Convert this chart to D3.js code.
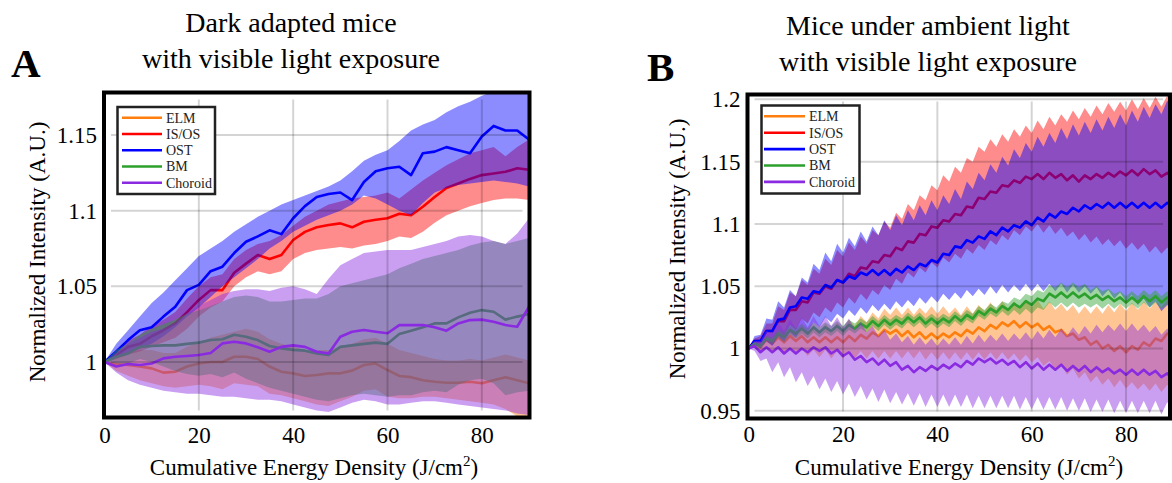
<!DOCTYPE html>
<html>
<head>
<meta charset="utf-8">
<script src="https://cdn.jsdelivr.net/npm/d3@7"></script>
<style>
  html, body { margin: 0; padding: 0; background: #fff; }
  svg { display: block; font-family: "Liberation Serif", "Times New Roman", serif; }
</style>
</head>
<body>
<svg id="chart" width="1172" height="483"></svg>
<script>
// ---- data ----
const layers = ['ELM', 'IS/OS', 'OST', 'BM', 'Choroid']
const colors = ['#ff7f0e', '#ff0000', '#0000ff', '#2ca02c', '#8a2be2']

const xTicks = [0, 20, 40, 60, 80]
const yTicksA = [1, 1.05, 1.1, 1.15]
const yTicksB = [0.95, 1, 1.05, 1.1, 1.15, 1.2]

// panel A (dark adapted), cumulative energy density
const xA = [0,2.5,5,7.5,10,12.5,15,17.5,20,22.5,25,27.5,30,32.5,35,37.5,40,42.5,45,47.5,50,52.5,55,57.5,60,62.5,65,67.5,70,72.5,75,77.5,80,82.5,85,87.5,90]

const aElm = [1.000,0.9987,0.998,0.997,0.9958,0.993,0.9936,0.997,0.999,1.000,1.000,1.0035,1.0035,1.002,0.997,0.9936,0.9925,0.9908,0.9914,0.9925,0.9925,0.9943,0.998,0.999,0.9947,0.9908,0.990,0.988,0.987,0.9863,0.9863,0.987,0.986,0.988,0.990,0.988,0.986]
const aElmHi = [1.000,1.004,1.006,1.008,1.008,1.006,1.006,1.010,1.013,1.016,1.018,1.020,1.022,1.020,1.015,1.012,1.010,1.008,1.008,1.008,1.010,1.012,1.015,1.016,1.012,1.008,1.006,1.004,1.002,1.001,1.001,1.002,1.001,1.003,1.005,1.003,1.001]
const aElmLo = [1.000,0.994,0.991,0.988,0.986,0.984,0.983,0.984,0.985,0.984,0.982,0.986,0.985,0.984,0.979,0.978,0.976,0.974,0.972,0.971,0.974,0.977,0.981,0.982,0.977,0.976,0.976,0.977,0.977,0.976,0.975,0.974,0.973,0.972,0.969,0.964,0.961]

const aIsos = [1.000,1.0046,1.010,1.012,1.017,1.021,1.0255,1.033,1.041,1.0475,1.0475,1.059,1.065,1.0707,1.068,1.0707,1.0806,1.086,1.089,1.0905,1.0916,1.089,1.0927,1.094,1.095,1.098,1.097,1.1026,1.109,1.115,1.118,1.121,1.1235,1.1246,1.1257,1.128,1.127]
const aIsosHi = [1.000,1.006,1.014,1.018,1.024,1.028,1.033,1.042,1.050,1.056,1.058,1.068,1.074,1.078,1.080,1.084,1.090,1.096,1.100,1.104,1.106,1.108,1.109,1.110,1.112,1.108,1.114,1.120,1.125,1.130,1.134,1.138,1.140,1.142,1.136,1.142,1.147]
const aIsosLo = [1.000,1.002,1.005,1.007,1.010,1.013,1.016,1.022,1.030,1.036,1.040,1.050,1.056,1.060,1.058,1.060,1.068,1.072,1.074,1.075,1.076,1.075,1.077,1.078,1.080,1.083,1.082,1.086,1.092,1.097,1.100,1.103,1.105,1.107,1.108,1.108,1.107]

const aOst = [1.000,1.007,1.0145,1.021,1.023,1.030,1.0365,1.0475,1.051,1.060,1.063,1.072,1.0795,1.083,1.087,1.0845,1.095,1.103,1.109,1.111,1.112,1.107,1.119,1.126,1.128,1.129,1.1235,1.138,1.139,1.142,1.140,1.138,1.149,1.156,1.153,1.153,1.147]
const aOstHi = [1.000,1.012,1.021,1.030,1.039,1.046,1.054,1.062,1.070,1.075,1.080,1.086,1.091,1.096,1.100,1.104,1.107,1.110,1.113,1.116,1.120,1.126,1.133,1.137,1.140,1.146,1.153,1.157,1.160,1.165,1.169,1.172,1.176,1.179,1.181,1.182,1.182]
const aOstLo = [1.000,1.003,1.006,1.009,1.012,1.017,1.023,1.030,1.036,1.043,1.050,1.056,1.062,1.068,1.075,1.080,1.086,1.090,1.094,1.097,1.100,1.104,1.110,1.108,1.104,1.100,1.097,1.105,1.112,1.115,1.117,1.118,1.119,1.120,1.119,1.118,1.116]

const aBm = [1.000,1.0035,1.0057,1.010,1.0106,1.011,1.011,1.012,1.0128,1.0145,1.015,1.018,1.0167,1.0145,1.0106,1.009,1.008,1.0075,1.0057,1.0046,1.010,1.011,1.012,1.0128,1.012,1.0185,1.0207,1.023,1.0255,1.0255,1.0295,1.0326,1.0343,1.0332,1.028,1.030,1.0317]
const aBmHi = [1.000,1.008,1.012,1.018,1.022,1.025,1.028,1.032,1.034,1.037,1.040,1.043,1.044,1.043,1.040,1.040,1.041,1.042,1.042,1.045,1.050,1.052,1.054,1.056,1.058,1.062,1.065,1.068,1.070,1.072,1.074,1.077,1.079,1.080,1.078,1.080,1.082]
const aBmLo = [1.000,0.999,0.999,1.002,1.000,0.997,0.994,0.992,0.991,0.992,0.990,0.993,0.989,0.986,0.983,0.981,0.979,0.977,0.975,0.974,0.976,0.978,0.979,0.978,0.977,0.978,0.978,0.980,0.981,0.980,0.985,0.988,0.989,0.986,0.978,0.980,0.981]

const aChoroid = [1.000,0.997,0.9987,0.998,0.999,1.0024,1.0035,1.004,1.0046,1.006,1.0123,1.0134,1.0123,1.0097,1.0068,1.010,1.011,1.010,1.0068,1.0057,1.0167,1.020,1.0211,1.020,1.019,1.0244,1.0244,1.0244,1.023,1.0207,1.0255,1.0277,1.028,1.0266,1.0244,1.0233,1.0365]
const aChoroidHi = [1.000,1.006,1.012,1.016,1.020,1.022,1.026,1.032,1.037,1.041,1.045,1.047,1.048,1.048,1.047,1.049,1.050,1.048,1.045,1.055,1.064,1.068,1.072,1.073,1.074,1.074,1.074,1.076,1.078,1.080,1.083,1.084,1.083,1.080,1.078,1.085,1.095]
const aChoroidLo = [1.000,0.993,0.988,0.985,0.983,0.981,0.980,0.979,0.979,0.978,0.977,0.977,0.976,0.975,0.975,0.974,0.972,0.970,0.968,0.967,0.970,0.973,0.975,0.974,0.972,0.972,0.973,0.974,0.974,0.973,0.972,0.971,0.970,0.969,0.968,0.966,0.965]

// panel B (ambient light)
const xB = [0,1.25,2.5,3.75,5,6.25,7.5,8.75,10,11.25,12.5,13.75,15,16.25,17.5,18.75,20,21.25,22.5,23.75,25,26.25,27.5,28.75,30,31.25,32.5,33.75,35,36.25,37.5,38.75,40,41.25,42.5,43.75,45,46.25,47.5,48.75,50,51.25,52.5,53.75,55,56.25,57.5,58.75,60,61.25,62.5,63.75,65,66.25,67.5,68.75,70,71.25,72.5,73.75,75,76.25,77.5,78.75,80,81.25,82.5,83.75,85,86.25,87.5,88.75,90]

const bElm = [1.000,1.004,1.001,1.007,1.004,1.009,1.005,1.010,1.006,1.010,1.005,1.009,1.005,1.009,1.005,1.009,
  1.005,1.010,1.006,1.011,1.008,1.013,1.010,1.015,1.012,1.015,1.010,1.014,1.009,1.013,1.008,1.012,
  1.008,1.012,1.009,1.013,1.010,1.015,1.012,1.017,1.014,1.019,1.016,1.021,1.018,1.022,1.017,1.021,
  1.017,1.020,1.015,1.018,1.013,1.015,1.010,1.012,1.007,1.009,1.003,1.006,1.000,1.003,0.998,1.002,
  0.997,1.002,0.999,1.005,1.002,1.008,1.006,1.012,1.010]
const bElmHi = [1.000,1.005,1.003,1.010,1.007,1.014,1.009,1.016,1.011,1.018,1.012,1.019,1.013,1.020,1.014,1.021,
  1.015,1.023,1.018,1.026,1.021,1.029,1.024,1.032,1.027,1.033,1.027,1.033,1.027,1.033,1.028,1.034,
  1.028,1.034,1.028,1.033,1.027,1.034,1.028,1.035,1.030,1.037,1.031,1.038,1.032,1.038,1.032,1.039,
  1.033,1.039,1.032,1.038,1.031,1.036,1.030,1.035,1.028,1.034,1.028,1.034,1.028,1.035,1.029,1.036,
  1.030,1.037,1.031,1.038,1.032,1.038,1.033,1.039,1.033]
const bElmLo = [1.000,1.002,0.998,1.002,0.997,1.002,0.996,1.001,0.995,1.000,0.994,0.999,0.993,0.999,0.992,0.998,
  0.992,0.998,0.992,0.998,0.992,0.998,0.992,0.998,0.992,0.998,0.992,0.998,0.992,0.998,0.991,0.997,
  0.991,0.997,0.991,0.997,0.991,0.997,0.991,0.997,0.991,0.997,0.991,0.997,0.991,0.996,0.990,0.995,
  0.989,0.993,0.986,0.990,0.983,0.987,0.979,0.984,0.976,0.981,0.973,0.978,0.971,0.976,0.969,0.975,
  0.968,0.973,0.967,0.972,0.966,0.972,0.965,0.971,0.965]

const bIsos = [1.000,1.006,1.006,1.014,1.014,1.022,1.022,1.031,1.031,1.038,1.037,1.045,1.044,1.050,1.048,1.055,
  1.053,1.060,1.058,1.065,1.064,1.070,1.069,1.075,1.074,1.081,1.079,1.086,1.085,1.092,1.091,1.098,
  1.097,1.103,1.102,1.108,1.107,1.114,1.113,1.121,1.120,1.126,1.125,1.131,1.130,1.135,1.133,1.138,
  1.136,1.140,1.136,1.141,1.137,1.140,1.135,1.139,1.134,1.139,1.136,1.140,1.137,1.141,1.138,1.142,
  1.139,1.143,1.139,1.144,1.140,1.143,1.138,1.141,1.136]
const bIsosHi = [1.000,1.008,1.010,1.020,1.020,1.034,1.031,1.045,1.042,1.055,1.051,1.064,1.060,1.072,1.067,1.079,
  1.074,1.085,1.079,1.090,1.084,1.095,1.091,1.102,1.097,1.109,1.104,1.116,1.111,1.123,1.119,1.131,
  1.127,1.139,1.134,1.146,1.141,1.153,1.150,1.162,1.158,1.168,1.162,1.172,1.166,1.176,1.170,1.179,
  1.173,1.183,1.176,1.186,1.179,1.188,1.182,1.191,1.184,1.193,1.186,1.195,1.188,1.197,1.190,1.198,
  1.191,1.200,1.192,1.201,1.193,1.202,1.194,1.203,1.195]
const bIsosLo = [1.000,1.004,1.002,1.008,1.005,1.014,1.010,1.019,1.015,1.024,1.020,1.029,1.025,1.033,1.029,1.037,
  1.033,1.041,1.036,1.044,1.039,1.047,1.043,1.051,1.047,1.056,1.052,1.061,1.057,1.065,1.061,1.069,
  1.065,1.073,1.069,1.076,1.072,1.080,1.076,1.083,1.079,1.087,1.083,1.091,1.087,1.095,1.091,1.098,
  1.094,1.100,1.093,1.099,1.092,1.097,1.090,1.094,1.087,1.092,1.085,1.090,1.083,1.088,1.082,1.087,
  1.080,1.085,1.079,1.084,1.077,1.082,1.076,1.081,1.074]

const bOst = [1.000,1.006,1.006,1.014,1.014,1.023,1.024,1.033,1.034,1.041,1.040,1.046,1.045,1.051,1.049,1.055,
  1.053,1.058,1.056,1.061,1.059,1.063,1.059,1.063,1.059,1.064,1.061,1.066,1.063,1.068,1.066,1.071,
  1.069,1.076,1.075,1.082,1.081,1.087,1.085,1.090,1.088,1.094,1.091,1.097,1.094,1.099,1.097,1.102,
  1.099,1.105,1.102,1.108,1.105,1.110,1.108,1.113,1.110,1.115,1.112,1.116,1.113,1.117,1.113,1.117,
  1.113,1.117,1.113,1.117,1.113,1.117,1.113,1.117,1.113]
const bOstHi = [1.000,1.010,1.011,1.024,1.023,1.038,1.033,1.047,1.042,1.057,1.053,1.068,1.063,1.077,1.070,1.084,
  1.077,1.089,1.082,1.094,1.086,1.098,1.091,1.103,1.095,1.107,1.099,1.111,1.103,1.115,1.107,1.119,
  1.111,1.123,1.116,1.128,1.120,1.134,1.128,1.141,1.135,1.148,1.141,1.154,1.147,1.160,1.153,1.165,
  1.158,1.170,1.162,1.173,1.165,1.177,1.168,1.180,1.171,1.182,1.173,1.184,1.175,1.186,1.177,1.188,
  1.179,1.191,1.182,1.194,1.185,1.196,1.188,1.199,1.190]
const bOstLo = [1.000,1.003,1.001,1.006,1.002,1.010,1.006,1.013,1.009,1.017,1.013,1.021,1.017,1.025,1.021,1.028,
  1.024,1.031,1.026,1.033,1.028,1.035,1.030,1.036,1.031,1.038,1.033,1.039,1.034,1.041,1.036,1.042,
  1.037,1.044,1.039,1.045,1.040,1.047,1.042,1.048,1.043,1.050,1.044,1.051,1.045,1.051,1.046,1.052,
  1.046,1.052,1.046,1.052,1.046,1.052,1.045,1.051,1.045,1.050,1.044,1.049,1.042,1.047,1.040,1.045,
  1.038,1.043,1.035,1.040,1.033,1.038,1.030,1.035,1.028]

const bBm = [1.000,1.004,1.002,1.008,1.006,1.012,1.009,1.015,1.012,1.016,1.012,1.017,1.013,1.017,1.014,1.018,
  1.014,1.019,1.016,1.020,1.017,1.022,1.018,1.023,1.019,1.023,1.020,1.025,1.021,1.025,1.020,1.024,
  1.020,1.024,1.021,1.026,1.022,1.027,1.024,1.030,1.027,1.032,1.029,1.034,1.031,1.036,1.033,1.038,
  1.035,1.040,1.038,1.044,1.041,1.045,1.041,1.045,1.041,1.044,1.040,1.043,1.039,1.042,1.038,1.041,
  1.037,1.041,1.037,1.042,1.038,1.042,1.037,1.041,1.037]
const bBmHi = [1.000,1.005,1.004,1.010,1.009,1.015,1.013,1.019,1.016,1.020,1.016,1.021,1.017,1.021,1.018,1.022,
  1.018,1.023,1.020,1.024,1.021,1.026,1.022,1.027,1.023,1.027,1.024,1.029,1.025,1.029,1.024,1.028,
  1.024,1.028,1.025,1.030,1.026,1.031,1.028,1.034,1.031,1.036,1.033,1.038,1.036,1.041,1.039,1.044,
  1.042,1.047,1.045,1.051,1.049,1.053,1.049,1.053,1.049,1.052,1.047,1.050,1.046,1.048,1.044,1.046,
  1.042,1.046,1.042,1.047,1.043,1.047,1.042,1.046,1.042]
const bBmLo = [1.000,1.003,1.000,1.006,1.003,1.009,1.005,1.011,1.008,1.012,1.008,1.013,1.009,1.013,1.010,1.014,
  1.010,1.015,1.012,1.016,1.013,1.018,1.014,1.019,1.015,1.019,1.016,1.021,1.017,1.021,1.016,1.020,
  1.016,1.020,1.017,1.022,1.018,1.023,1.020,1.026,1.023,1.028,1.025,1.030,1.026,1.031,1.027,1.032,
  1.028,1.033,1.031,1.037,1.033,1.037,1.033,1.037,1.033,1.036,1.033,1.036,1.032,1.036,1.032,1.036,
  1.032,1.036,1.032,1.037,1.033,1.037,1.032,1.036,1.032]

const bChoroid = [1.000,1.002,0.997,1.001,0.997,1.001,0.996,1.000,0.996,1.000,0.997,1.001,0.998,1.001,0.996,0.999,
  0.994,0.997,0.991,0.994,0.989,0.992,0.987,0.991,0.986,0.989,0.983,0.986,0.981,0.985,0.982,0.986,
  0.983,0.987,0.984,0.988,0.985,0.990,0.987,0.992,0.989,0.992,0.988,0.991,0.987,0.990,0.985,0.989,
  0.984,0.988,0.983,0.987,0.983,0.987,0.982,0.986,0.982,0.986,0.981,0.985,0.981,0.984,0.980,0.983,
  0.979,0.983,0.979,0.983,0.979,0.982,0.977,0.980,0.975]
const bChoroidHi = [1.000,1.006,1.006,1.014,1.012,1.021,1.014,1.023,1.016,1.025,1.017,1.026,1.018,1.026,1.018,1.025,
  1.017,1.024,1.015,1.021,1.013,1.018,1.010,1.015,1.007,1.012,1.005,1.010,1.003,1.009,1.003,1.008,
  1.002,1.008,1.003,1.009,1.003,1.010,1.004,1.011,1.005,1.011,1.006,1.012,1.006,1.012,1.007,1.013,
  1.007,1.014,1.008,1.015,1.009,1.016,1.010,1.017,1.011,1.018,1.012,1.019,1.013,1.019,1.014,1.020,
  1.014,1.020,1.014,1.019,1.013,1.018,1.011,1.016,1.009]
const bChoroidLo = [1.000,0.998,0.990,0.992,0.981,0.989,0.977,0.985,0.973,0.981,0.970,0.978,0.967,0.976,0.965,0.974,
  0.963,0.972,0.961,0.970,0.959,0.968,0.957,0.967,0.956,0.965,0.955,0.964,0.954,0.964,0.953,0.963,
  0.953,0.963,0.953,0.963,0.953,0.963,0.952,0.962,0.952,0.962,0.952,0.962,0.952,0.962,0.951,0.961,
  0.951,0.961,0.951,0.961,0.951,0.961,0.950,0.960,0.950,0.960,0.949,0.959,0.949,0.959,0.948,0.958,
  0.948,0.958,0.948,0.958,0.948,0.958,0.947,0.957,0.947]

// ---- drawing ----
const svg = d3.select('#chart')
const defs = svg.append('defs')

const makeSeries = (means, los, his) => layers.map((name, i) => ({
  name, color: colors[i], mean: means[i], lo: los[i], hi: his[i]
}))

const panels = [
  {
    letter: 'A', letterX: 11, letterY: 77,
    title: ['Dark adapted mice', 'with visible light exposure'], titleX: 291, titleY: [32, 68],
    frame: { x0: 104, x1: 529.5, y0: 92.5, y1: 417.5 },
    xs: xA, xDomain: [0, 90], xRange: [104.5, 529],
    yDomain: [0.96333, 1.17809], yTicks: yTicksA,
    xPad: 9, yLabel: [37, 252], xLabel: [314, 475],
    legend: { x: 117.5, y: 107, w: 97.5, h: 87, l0: 122, l1: 162, tx: 166, ty: 117.7, dy: 16.25 },
    series: makeSeries([aElm, aIsos, aOst, aBm, aChoroid], [aElmLo, aIsosLo, aOstLo, aBmLo, aChoroidLo],
      [aElmHi, aIsosHi, aOstHi, aBmHi, aChoroidHi])
  },
  {
    letter: 'B', letterX: 647, letterY: 81,
    title: ['Mice under ambient light', 'with visible light exposure'], titleX: 928, titleY: [35, 71],
    frame: { x0: 747.5, x1: 1170, y0: 94.5, y1: 418.5 },
    xs: xB, xDomain: [0, 90], xRange: [748.7, 1173.2],
    yDomain: [0.94382, 1.2039], yTicks: yTicksB,
    xPad: 7, yLabel: [677, 249], xLabel: [959, 475],
    legend: { x: 761.5, y: 105.5, w: 98, h: 88, l0: 764, l1: 805, tx: 809, ty: 116.3, dy: 16.4 },
    series: makeSeries([bElm, bIsos, bOst, bBm, bChoroid], [bElmLo, bIsosLo, bOstLo, bBmLo, bChoroidLo],
      [bElmHi, bIsosHi, bOstHi, bBmHi, bChoroidHi])
  }
]

const drawPanel = (p) => {
  const f = p.frame
  const x = d3.scaleLinear().domain(p.xDomain).range(p.xRange)
  const y = d3.scaleLinear().domain(p.yDomain).range([f.y1, f.y0])
  const g = svg.append('g')

  const clipId = 'clip' + p.letter
  defs.append('clipPath').attr('id', clipId).append('rect')
    .attr('x', f.x0).attr('y', f.y0)
    .attr('width', f.x1 - f.x0).attr('height', f.y1 - f.y0)

  const plot = g.append('g').attr('clip-path', `url(#${clipId})`)

  const area = d3.area()
    .x((d, i) => x(p.xs[i]))
    .y0(d => y(d[0]))
    .y1(d => y(d[1]))
  const line = d3.line()
    .x((d, i) => x(p.xs[i]))
    .y(d => y(d))

  // band first, then mean line, series by series
  p.series.forEach(s => {
    plot.append('path')
      .datum(s.lo.map((v, i) => [v, s.hi[i]]))
      .attr('d', area)
      .attr('fill', s.color)
      .attr('fill-opacity', 0.45)
    plot.append('path')
      .datum(s.mean)
      .attr('d', line)
      .attr('fill', 'none')
      .attr('stroke', s.color)
      .attr('stroke-width', 2.6)
      .attr('stroke-linejoin', 'round')
  })

  // grid on top, faint
  const inset = 7
  plot.selectAll('line.gx')
    .data(xTicks.filter(d => d > 0))
    .join('line')
    .attr('x1', d => x(d)).attr('x2', d => x(d))
    .attr('y1', f.y0 + inset).attr('y2', f.y1 - inset)
    .attr('stroke', '#000').attr('stroke-opacity', 0.17).attr('stroke-width', 2)
  plot.selectAll('line.gy')
    .data(p.yTicks)
    .join('line')
    .attr('x1', f.x0 + inset).attr('x2', f.x1 - inset)
    .attr('y1', d => y(d)).attr('y2', d => y(d))
    .attr('stroke', '#000').attr('stroke-opacity', 0.17).attr('stroke-width', 2)

  // frame
  g.append('rect')
    .attr('x', f.x0).attr('y', f.y0)
    .attr('width', f.x1 - f.x0).attr('height', f.y1 - f.y0)
    .attr('fill', 'none').attr('stroke', '#000').attr('stroke-width', 4)

  // axes (labels only, no tick marks)
  const yAxis = d3.axisLeft(y).tickValues(p.yTicks).tickSize(0).tickPadding(7).tickFormat(d3.format(''))
  g.append('g')
    .attr('transform', `translate(${f.x0},0)`)
    .call(yAxis)
    .call(a => a.select('.domain').remove())
    .attr('font-family', '"Liberation Serif", serif')
    .attr('font-size', 23)
    .selectAll('text').attr('fill', '#000')

  const xAxis = d3.axisBottom(x).tickValues(xTicks).tickSize(0).tickPadding(p.xPad).tickFormat(d3.format(''))
  g.append('g')
    .attr('transform', `translate(0,${f.y1})`)
    .call(xAxis)
    .call(a => a.select('.domain').remove())
    .attr('font-family', '"Liberation Serif", serif')
    .attr('font-size', 23)
    .selectAll('text').attr('fill', '#000')

  // axis titles
  g.append('text')
    .attr('transform', `translate(${p.yLabel[0]},${p.yLabel[1]}) rotate(-90)`)
    .attr('text-anchor', 'middle')
    .attr('dy', '0.35em')
    .attr('font-size', 23)
    .text('Normalized Intensity (A.U.)')

  const xl = g.append('text')
    .attr('x', p.xLabel[0]).attr('y', p.xLabel[1])
    .attr('text-anchor', 'middle')
    .attr('font-size', 23)
  xl.append('tspan').text('Cumulative Energy Density (J/cm')
  xl.append('tspan').attr('font-size', 15).attr('dy', -9).text('2')
  xl.append('tspan').attr('dy', 9).text(')')

  // panel title and letter
  p.title.forEach((t, i) => {
    g.append('text')
      .attr('x', p.titleX).attr('y', p.titleY[i])
      .attr('text-anchor', 'middle')
      .attr('font-size', 28)
      .text(t)
  })
  g.append('text')
    .attr('x', p.letterX).attr('y', p.letterY)
    .attr('font-size', 41)
    .attr('font-weight', 'bold')
    .text(p.letter)

  // legend
  const L = p.legend
  const lg = g.append('g')
  lg.append('rect')
    .attr('x', L.x).attr('y', L.y).attr('width', L.w).attr('height', L.h)
    .attr('fill', '#fff').attr('stroke', '#222').attr('stroke-width', 2.5)
  p.series.forEach((s, i) => {
    const yy = L.ty + i * L.dy
    lg.append('line')
      .attr('x1', L.l0).attr('x2', L.l1).attr('y1', yy).attr('y2', yy)
      .attr('stroke', s.color).attr('stroke-width', 2.6)
    lg.append('text')
      .attr('x', L.tx).attr('y', yy).attr('dy', '0.35em')
      .attr('font-size', 14).attr('fill', '#222')
      .text(s.name)
  })
}

panels.forEach(drawPanel)
</script>
</body>
</html>
